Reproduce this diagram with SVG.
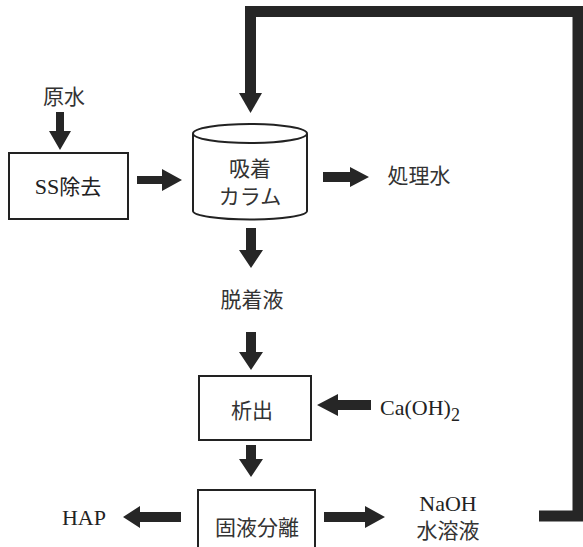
<svg xmlns="http://www.w3.org/2000/svg" width="583" height="547" viewBox="0 0 583 547">
<style>
.box{fill:#fff;stroke:#222;stroke-width:2}
.arr{fill:#262626;stroke:none}
.jp{font-family:"Noto Sans CJK JP","Noto Sans",sans-serif;font-size:21px;fill:#333;text-anchor:middle}
.rm{font-family:"Liberation Serif","Times New Roman",serif;font-size:22px;fill:#222}
.jps{font-family:"Noto Sans CJK JP","Noto Sans",sans-serif;font-size:21px}
</style>
<rect width="583" height="547" fill="#fff"/>
<g id="connectors">
<polyline points="539,516 578,516 578,11.5 250.5,11.5 250.5,94" fill="none" stroke="#262626" stroke-width="11" stroke-linejoin="miter"/>
<polygon class="arr" points="239,93 262,93 250.5,113"/>
<polygon class="arr" points="56,112 64,112 64,131 71,131 60,150 49,131 56,131"/>
<polygon class="arr" points="137,176 162,176 162,169 182,180 162,191 162,184 137,184"/>
<polygon class="arr" points="323,172 350,172 350,167 369,177 350,187 350,182 323,182"/>
<polygon class="arr" points="246,228 256,228 256,250 263,250 251,268 239,250 246,250"/>
<polygon class="arr" points="246,332 256,332 256,352 263,352 251,370 239,352 246,352"/>
<polygon class="arr" points="371,400 338,400 338,394 317,405 338,416 338,410 371,410"/>
<polygon class="arr" points="246,445 256,445 256,459 263,459 251,477 239,459 246,459"/>
<polygon class="arr" points="181,512 140,512 140,506 123,517 140,528 140,522 181,522"/>
<polygon class="arr" points="324,512 365,512 365,506 385,517 365,528 365,522 324,522"/>
</g>
<g id="raw-water"><text class="jp" x="64" y="104">原水</text></g>
<g id="ss-removal">
<rect class="box" x="9" y="153" width="119" height="66"/>
<text class="rm" x="68" y="194" text-anchor="middle" fill="#333" font-size="23">SS<tspan class="jps">除去</tspan></text>
</g>
<g id="column">
<path d="M193,134 L193,211 A57,8.5 0 0 0 307,211 L307,134" fill="#fff" stroke="#222" stroke-width="2"/>
<ellipse cx="250" cy="133.5" rx="57" ry="9.5" fill="#fff" stroke="#222" stroke-width="2"/>
<text class="jp" x="250" y="176">吸着</text>
<text class="jp" x="250" y="204">カラム</text>
</g>
<g id="treated-water"><text class="jp" x="419" y="183">処理水</text></g>
<g id="eluate"><text class="jp" x="252" y="307">脱着液</text></g>
<g id="precipitation">
<rect class="box" x="199" y="376" width="112" height="64"/>
<text class="jp" x="252" y="418">析出</text>
</g>
<g id="caoh2"><text class="rm" x="380" y="415" font-size="24">Ca(OH)<tspan font-size="18" dy="6">2</tspan></text></g>
<g id="separation">
<rect class="box" x="198" y="490" width="117" height="58"/>
<text class="jp" x="257" y="535">固液分離</text>
</g>
<g id="hap"><text class="rm" x="84" y="525" text-anchor="middle" font-size="21">HAP</text></g>
<g id="naoh">
<text class="rm" x="448" y="511" text-anchor="middle" font-size="21">NaOH</text>
<text class="jp" x="448" y="538">水溶液</text>
</g>
</svg>
